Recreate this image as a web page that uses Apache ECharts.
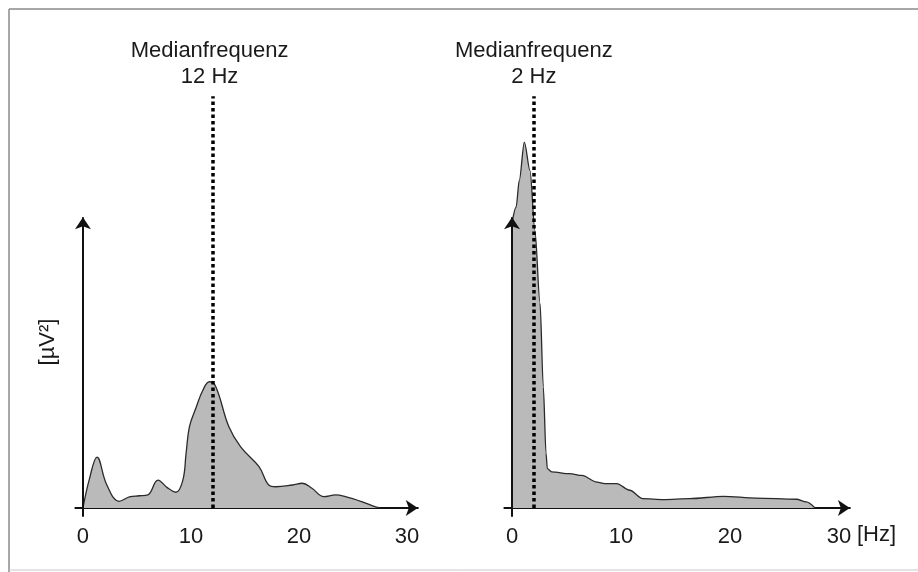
<!DOCTYPE html>
<html>
<head>
<meta charset="utf-8">
<script src="https://cdn.jsdelivr.net/npm/echarts@6/dist/echarts.min.js"></script>
<style>
html,body{margin:0;padding:0;background:#fff;}
#c{width:918px;height:572px;}
</style>
</head>
<body>
<div id="c"></div>
<script>
// ---- data (frequency in Hz, power in arbitrary units) ----
const freqA = [0, 0.6, 1.3, 2.2, 3.35, 4.3, 5.2, 6.0, 6.95, 7.8, 8.6, 9.25, 9.55, 9.86, 10.5, 11.1, 11.7, 12.3, 13.5, 14.6, 16.3, 17.2, 17.85, 19.4, 20.3, 21.2, 22.3, 23.4, 24.3, 25.8, 27.1, 27.5];
const powerA = [0, 10, 17.5, 8, 2.3, 3.8, 4.2, 4.5, 9.6, 7, 5.4, 9.6, 18.9, 28, 34.8, 40.5, 43.4, 41.7, 28, 21, 14.2, 7.9, 7.3, 7.9, 8.5, 6.8, 3.9, 4.5, 3.9, 2.2, 0.4, 0];
const freqB = [0, 0.37, 0.67, 1.13, 1.65, 2.1, 2.57, 2.87, 3.12, 3.24, 3.64, 5.3, 6.4, 7.8, 8.5, 9.6, 10.8, 12.0, 13.9, 16.3, 19.4, 22.4, 26.1, 27.0, 27.8];
const powerB = [98, 103.4, 112.7, 125.8, 116, 95.4, 70.3, 41.6, 18.8, 13.5, 12.4, 11.8, 11.2, 8.9, 8.4, 8.4, 6.1, 3.2, 2.9, 3.2, 4.0, 3.4, 3.0, 2.1, 0];
const medianA = 12;
const medianB = 2;
const medianLabel = 'Medianfrequenz';
const xTickLabels = [0, 10, 20, 30];
const yUnit = '[µV²]';
const xUnit = '[Hz]';

const FONT = 'Liberation Sans, Arial, Helvetica, sans-serif';
const FS = 22;
const Y_ARROW_TOP = 100;
const Y_LINE_TOP = 141.6;

function pairs(xs, ys){ return xs.map((x,i)=>[x, ys[i]]); }

function xAxisCfg(idx){
  return {
    type:'value', gridIndex: idx, min:-0.7, max:31,
    splitLine:{show:false},
    axisTick:{show:false},
    axisLine:{show:true, onZero:true, symbol:['none','arrow'], symbolSize:[12,12],
      lineStyle:{color:'#111', width:2}},
    axisLabel:{customValues: xTickLabels, fontSize:FS, color:'#1a1a1a', fontFamily:FONT, margin:9}
  };
}
function yAxisCfg(idx){
  return {
    type:'value', gridIndex: idx, min:-3, max:142,
    splitLine:{show:false}, axisTick:{show:false}, axisLabel:{show:false},
    axisLine:{show:false}
  };
}
function seriesCfg(idx, xs, ys, median, hzText, offX, smooth, mono){
  return {
    type:'line', xAxisIndex:idx, yAxisIndex:idx,
    data: pairs(xs, ys),
    symbol:'none', smooth:smooth, smoothMonotone:mono,
    lineStyle:{color:'#2a2a2a', width:1.3},
    areaStyle:{color:'#bababa', opacity:1},
    animation:false,
    markLine:{
      silent:true, animation:false,
      symbol:['none','none'],
      data:[
        [
          {coord:[median,0], symbol:'none',
           lineStyle:{color:'#000', width:3.5, type:[3.5,3]},
           label:{show:true, position:'end', formatter: medianLabel + '\n' + hzText,
             fontSize:FS, lineHeight:26, color:'#1a1a1a', fontFamily:FONT, distance:6, offset:[offX,0]}},
          {coord:[median,Y_LINE_TOP], symbol:'none'}
        ],
        [
          {coord:[0,-3], symbol:'none',
           lineStyle:{color:'#111', width:2, type:'solid'},
           label:{show:false}},
          {coord:[0,Y_ARROW_TOP], symbol:'arrow', symbolSize:12}
        ]
      ]
    }
  };
}

const chart = echarts.init(document.getElementById('c'), null, {renderer:'canvas'});
chart.setOption({
  backgroundColor:'#fff',
  animation:false,
  grid:[
    {left:75.4, width:342.4, top:95, bottom:55.3},
    {left:504.4, width:345.5, top:95, bottom:55.3}
  ],
  xAxis:[xAxisCfg(0), xAxisCfg(1)],
  yAxis:[yAxisCfg(0), yAxisCfg(1)],
  series:[
    seriesCfg(0, freqA, powerA, medianA, medianA + ' Hz', -3, 0.4, null),
    seriesCfg(1, freqB, powerB, medianB, medianB + ' Hz', 0, 0.3, 'x')
  ],
  graphic:[
    {type:'text', x:48, y:342, rotation:Math.PI/2,
     style:{text:yUnit, fill:'#1a1a1a', font:FS + 'px ' + FONT, align:'center', verticalAlign:'middle'}},
    {type:'text', x:857, y:535,
     style:{text:xUnit, fill:'#1a1a1a', font:FS + 'px ' + FONT, align:'left', verticalAlign:'middle'}},
    {type:'line', shape:{x1:9, y1:9, x2:918, y2:9}, style:{stroke:'#8a8a8a', lineWidth:1.5}},
    {type:'line', shape:{x1:9, y1:9, x2:9, y2:572}, style:{stroke:'#8a8a8a', lineWidth:1.5}},
    {type:'line', shape:{x1:9, y1:570, x2:918, y2:570}, style:{stroke:'#c8c8c8', lineWidth:1}}
  ]
});
</script>
</body>
</html>
